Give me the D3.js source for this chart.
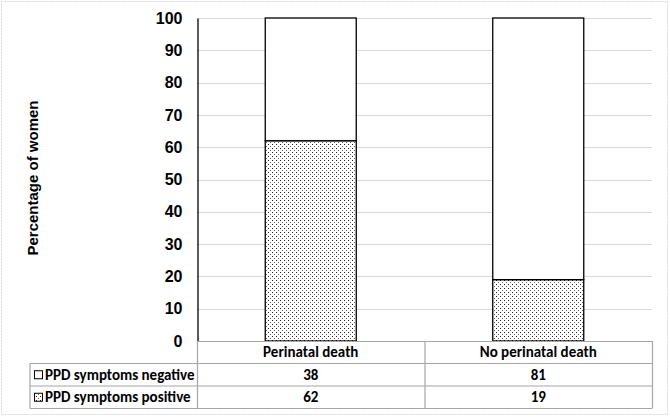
<!DOCTYPE html>
<html><head><meta charset="utf-8">
<script src="https://cdn.jsdelivr.net/npm/d3@7"></script>
<style>body{margin:0;background:#fff}svg{display:block}</style>
</head><body>
<svg id="c" width="670" height="418"></svg>
<script>
const categories = ["Perinatal death", "No perinatal death"];
const seriesNames = ["PPD symptoms negative", "PPD symptoms positive"];
const negative = [38, 81];
const positive = [62, 19];
const yTicks = [0,10,20,30,40,50,60,70,80,90,100];
const yLabel = "Percentage of women";

const svg = d3.select("#c");
const defs = svg.append("defs");
const pat = defs.append("pattern").attr("id","dots").attr("patternUnits","userSpaceOnUse")
  .attr("width",4).attr("height",4);
pat.append("rect").attr("width",4).attr("height",4).attr("fill","#fff");
pat.append("rect").attr("x",0).attr("y",0).attr("width",1).attr("height",1).attr("fill","#222");
pat.append("rect").attr("x",2).attr("y",2).attr("width",1).attr("height",1).attr("fill","#666");

svg.append("rect").attr("x",1.5).attr("y",1.5).attr("width",666).attr("height",413)
  .attr("fill","#fff").attr("stroke","#d9d9d9").attr("stroke-dasharray","2,1");

const L = 197, R = 652, T = 18, B = 341;
const x = d3.scaleBand().domain(categories).range([L,R]).paddingInner(0).paddingOuter(0);
const y = d3.scaleLinear().domain([0,100]).range([B,T]);

// gridlines
svg.append("g").selectAll("line").data(yTicks.filter(d=>d>0)).join("line")
  .attr("x1",L).attr("x2",R).attr("y1",d=>Math.round(y(d))+0.5).attr("y2",d=>Math.round(y(d))+0.5)
  .attr("stroke","#d9d9d9").attr("stroke-width",1);

// axis
const ax = svg.append("g").attr("transform",`translate(${L+0.5},0)`)
  .call(d3.axisLeft(y).tickValues(yTicks).tickSize(0).tickPadding(15));
ax.select(".domain").attr("stroke","#000").attr("stroke-width",1.3);
ax.selectAll("text").attr("font-family","Liberation Sans, Arial").attr("font-size",16)
  .attr("font-weight","bold").attr("fill","#000");

svg.append("text").attr("transform",`translate(38,178) rotate(-90)`).attr("text-anchor","middle")
  .attr("font-family","Liberation Sans, Arial").attr("font-size",15).attr("font-weight","bold")
  .attr("fill","#000").text(yLabel);

// bars
const bw = x.bandwidth()*0.4;
const bx = d => x(d) + (x.bandwidth()-bw)/2;
svg.append("g").selectAll("rect").data(categories).join("rect")
  .attr("x",d=>bx(d)).attr("width",bw)
  .attr("y",(d,i)=>y(positive[i])).attr("height",(d,i)=>y(0)-y(positive[i]))
  .attr("fill","url(#dots)").attr("stroke","#000").attr("stroke-width",1.3);
svg.append("g").selectAll("rect").data(categories).join("rect")
  .attr("x",d=>bx(d)).attr("width",bw)
  .attr("y",(d,i)=>y(positive[i]+negative[i])).attr("height",(d,i)=>y(positive[i])-y(positive[i]+negative[i]))
  .attr("fill","#fff").attr("stroke","#000").attr("stroke-width",1.3);

// data table
const rowH = [341, 363.5, 386, 408.5];
const TL = 30;
const g = svg.append("g").attr("stroke","#a6a6a6").attr("stroke-width",1.2).attr("fill","none");
g.append("line").attr("x1",L).attr("x2",R).attr("y1",rowH[0]+0.5).attr("y2",rowH[0]+0.5);
[1,2,3].forEach(i=>g.append("line").attr("x1",TL).attr("x2",R).attr("y1",rowH[i]).attr("y2",rowH[i]));
g.append("line").attr("x1",TL).attr("x2",TL).attr("y1",rowH[1]).attr("y2",rowH[3]);
[L, x(categories[1]), R].forEach(v=>g.append("line").attr("x1",v+0.5).attr("x2",v+0.5).attr("y1",rowH[0]).attr("y2",rowH[3]));

const tf = "Carlito, Lato, 'Open Sans', sans-serif";
const fs = 15;
svg.append("g").selectAll("text").data(categories).join("text")
  .attr("x",d=>x(d)+x.bandwidth()/2).attr("y",(rowH[0]+rowH[1])/2+5).attr("text-anchor","middle")
  .attr("font-family",tf).attr("font-size",fs).attr("font-weight","bold").text(d=>d);
const rows = [negative, positive];
rows.forEach((vals,r)=>{
  svg.append("g").selectAll("text").data(categories).join("text")
    .attr("x",d=>x(d)+x.bandwidth()/2).attr("y",(rowH[r+1]+rowH[r+2])/2+5).attr("text-anchor","middle")
    .attr("font-family",tf).attr("font-size",fs).attr("font-weight","bold").text((d,i)=>vals[i]);
  const cy = (rowH[r+1]+rowH[r+2])/2;
  svg.append("rect").attr("x",34.5).attr("y",cy-4).attr("width",8).attr("height",8)
    .attr("fill", r===0 ? "#fff" : "url(#dots)").attr("stroke","#000").attr("stroke-width",1);
  svg.append("text").attr("x",45).attr("y",cy+5).attr("font-family",tf).attr("font-size",fs)
    .attr("font-weight","bold").text(seriesNames[r]);
});
</script>
</body></html>
